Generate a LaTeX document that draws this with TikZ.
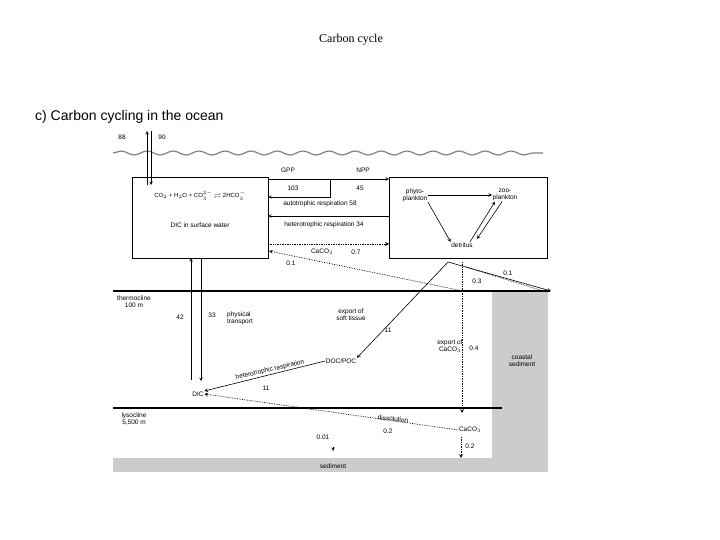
\documentclass[tikz,border=0pt]{standalone}
\usepackage{fontspec}
\setmainfont{Liberation Sans}
\usetikzlibrary{decorations.pathmorphing}
\newfontfamily\serifx{Liberation Serif}
\begin{document}
\begin{tikzpicture}[x=1pt,y=-1pt,
 t/.style={font=\fontsize{6.5}{7}\selectfont,inner sep=0.5pt,align=center},
 ar/.style={->,>=stealth,line width=0.6pt},
 dt/.style={->,>=stealth,line width=0.7pt,densely dotted},
 bx/.style={draw,line width=0.6pt}]
\useasboundingbox (0,0) rectangle (720,540);
\node[font=\serifx\fontsize{12}{14}\selectfont] (title) at (351,40) {Carbon cycle};
\node[anchor=west,font=\fontsize{14}{16}\selectfont,inner sep=0] (head) at (35,117) {c) Carbon cycling in the ocean};
% gray fills
\fill[gray!40] (113,458) rectangle (548,472);
\fill[gray!40] (492,291) rectangle (548,472);
\node[t] (sed) at (333,466) {sediment};
\node[t] (coast) at (522,361) {coastal\\sediment};
% wave
\draw[gray,line width=1.2pt,decorate,decoration={snake,amplitude=2pt,segment length=26pt}] (113,153) -- (543,153);
% boxes
\node[bx,minimum width=136pt,minimum height=81pt,anchor=north west] (L) at (132,177) {};
\node[bx,minimum width=158pt,minimum height=81pt,anchor=north west] (R) at (389,177) {};
\node[font=\fontsize{6}{7}\selectfont,inner sep=0] (eq) at (200,196) {CO$_{\scriptscriptstyle 2}$ + H$_{\scriptscriptstyle 2}$O + CO$_{\scriptscriptstyle 3}^{\scriptscriptstyle 2-}$ $\rightleftharpoons$ 2HCO$_{\scriptscriptstyle 3}^{\scriptscriptstyle -}$};
\node[t] (dics) at (200,225) {DIC in surface water};
\node[t] (n88) at (122,137) {88};
\node[t] (n90) at (162,137) {90};
\coordinate (a1) at (147,185); \coordinate (a2) at (147,131);
\coordinate (a3) at (151,131); \coordinate (a4) at (151,185);
\draw[ar] (a1) -- (a2); \draw[ar] (a3) -- (a4);
% GPP etc
\coordinate (g1) at (268,179); \coordinate (g2) at (389,179);
\draw[ar] (g1) -- (g2);
\coordinate (v1) at (330,179); \coordinate (v2) at (330,197); \coordinate (v3) at (268,197);
\draw[ar] (v1) -- (v2) -- (v3);
\node[t] (gpp) at (288,170) {GPP};
\node[t] (npp) at (363,170) {NPP};
\node[t] (n103) at (293,188) {103};
\node[t] (n45) at (360,188) {45};
\node[t] (auto) at (320,204) {autotrophic respiration 58};
\coordinate (h1) at (389,216); \coordinate (h2) at (268,216);
\draw[ar] (h1) -- (h2);
\node[t] (het) at (324,225) {heterotrophic respiration 34};
\coordinate (c1) at (268,244); \coordinate (c2) at (389,244);
\draw[dt] (c1) -- (c2);
\node[t] (caco) at (322,252) {CaCO$_3$};
\node[t] (n07) at (356,252) {0.7};
\coordinate (d1) at (458,290); \coordinate (d2) at (269,251);
\draw[dt] (d1) -- (d2);
\node[t] (n01a) at (291,263) {0.1};
% plankton
\node[t] (phy) at (415,195) {phyto-\\plankton};
\node[t] (zoo) at (505,195) {zoo-\\plankton};
\node[t] (det) at (462,245) {detritus};
\draw[ar] (phy) -- (zoo);
\draw[ar] (phy.south east) -- (det.north west);
\draw[ar] ([xshift=8pt]det.north) -- ([xshift=-10pt]zoo.south);
\draw[ar] ([xshift=-3pt]zoo.south) -- ([xshift=15pt,yshift=3pt]det.north);
% from box bottom
\coordinate (o) at (448,262);
\coordinate (o1) at (551,291);
\draw[ar] (o) -- (o1);
\node[t] (n01b) at (508,273) {0.1};
\coordinate (p1) at (466,267); \coordinate (p2) at (540,290);
\draw[densely dotted,line width=0.7pt] (p1) -- (p2);
\node[t] (n03) at (477,281) {0.3};
% thermocline
\draw[line width=1.4pt] (113,291) -- (550,291);
\node[t] (thermo) at (134,302) {thermocline\\100 m};
% physical transport
\coordinate (t1) at (191,380); \coordinate (t2) at (191,258);
\coordinate (t3) at (201,258); \coordinate (t4) at (201,381);
\draw[ar] (t1) -- (t2); \draw[ar] (t3) -- (t4);
\node[t] (n42) at (180,317) {42};
\node[t] (n33) at (212,315) {33};
\node[t,align=left] (phys) at (240,318) {physical\\transport};
% soft tissue
\node[t] (doc) at (341,361) {DOC/POC};
\draw[ar] (o) -- (doc.north east);
\node[t] (soft) at (351,315) {export of\\soft tissue};
\node[t] (n11a) at (388,330) {11};
\coordinate (e1) at (462,262); \coordinate (e2) at (462,413);
\draw[dt] (e1) -- (e2);
\node[t] (expc) at (450,346) {export of\\CaCO$_3$};
\node[t] (n04) at (474,348) {0.4};
\node[t] (dic) at (198,394) {DIC};
\draw[ar] (doc.west) -- (dic.north east);
\node[t,rotate=13] (hr) at (270,370) {heterotrophic respiration};
\node[t] (n11b) at (266,388) {11};
% lysocline
\draw[line width=1.4pt] (113,408) -- (502,408);
\node[t] (lyso) at (134,419) {lysocline\\5,500 m};
\node[t] (cac2) at (470,430) {CaCO$_3$};
\draw[dt] (cac2.west) -- (dic.east);
\node[t,rotate=-5] (diss) at (393,419) {dissolution};
\node[t] (n02a) at (388,431) {0.2};
\node[t] (n001) at (323,437) {0.01};
\coordinate (s1) at (333,447); \coordinate (s2) at (333,451);
\draw[ar] (s1) -- (s2);
\coordinate (q1) at (461,437); \coordinate (q2) at (461,458);
\draw[dt] (q1) -- (q2);
\node[t] (n02b) at (470,446) {0.2};
\end{tikzpicture}
\end{document}
